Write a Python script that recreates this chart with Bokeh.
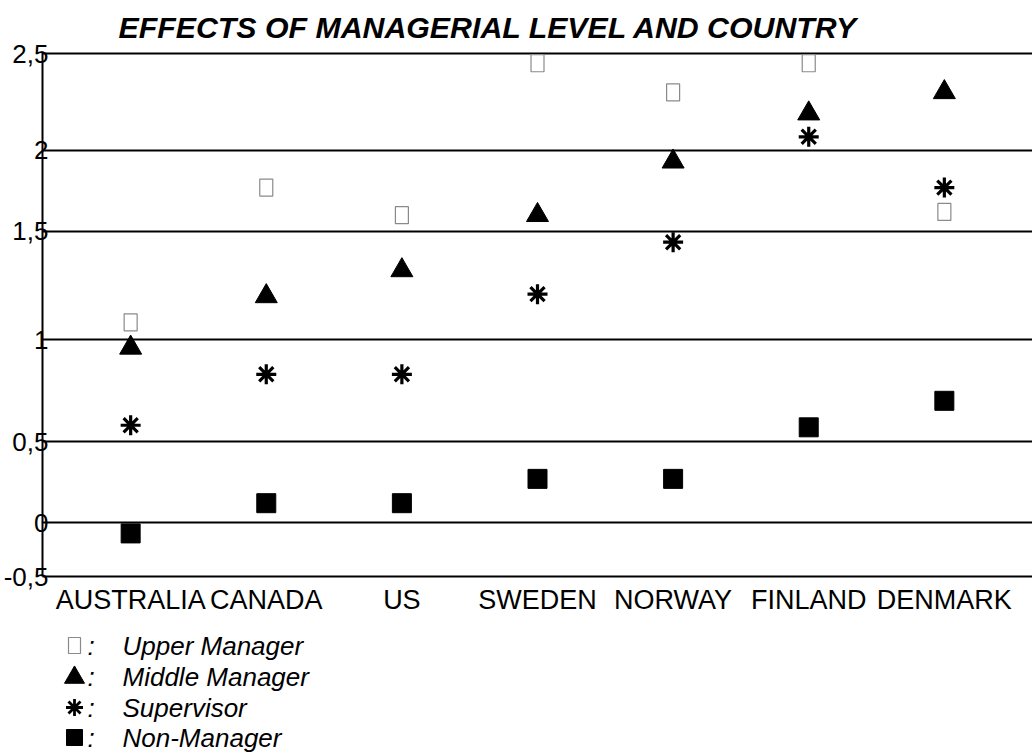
from bokeh.plotting import figure
from bokeh.layouts import column
from bokeh.models import (ColumnDataSource, FactorRange, Range1d, FixedTicker,
                          LinearInterpolator, Title)
from bokeh.transform import transform
from bokeh.core.properties import value
from bokeh.embed import file_html
from bokeh.resources import INLINE

# ---------------- data ----------------
countries = ["AUSTRALIA", "CANADA", "US", "SWEDEN", "NORWAY", "FINLAND", "DENMARK"]
upper_manager = [1.08, 1.77, 1.60, 2.45, 2.30, 2.45, 1.62]
middle_manager = [0.96, 1.20, 1.32, 1.60, 1.93, 2.19, 2.30]
supervisor = [0.58, 0.83, 0.83, 1.21, 1.45, 2.07, 1.77]
non_manager = [-0.10, 0.12, 0.12, 0.27, 0.27, 0.57, 0.70]

tick_values = [-0.5, 0, 0.5, 1, 1.5, 2, 2.5]
tick_labels = ["-0,5", "0", "0,5", "1", "1,5", "2", "2,5"]
legend_labels = ["Upper Manager", "Middle Manager", "Supervisor", "Non-Manager"]
title_text = "EFFECTS OF MANAGERIAL LEVEL AND COUNTRY"

# The reference's value axis is non-uniform: each tick value sits at this
# fraction of the plot height (from the bottom).
axis_fraction = [0.0, 0.103, 0.258, 0.453, 0.660, 0.815, 1.0]
value_axis = LinearInterpolator(x=tick_values, y=axis_fraction)

FONT = "Liberation Sans"
W = 1032
H_CHART = 624
H_LEGEND = 130

source = ColumnDataSource(dict(country=countries, upper=upper_manager,
                               middle=middle_manager, sup=supervisor,
                               non=non_manager))

p = figure(width=W, height=H_CHART, output_backend="svg", toolbar_location=None,
           x_range=FactorRange(*countries, range_padding=0.15,
                               range_padding_units="absolute"),
           y_range=Range1d(0, 1.004))
p.min_border_left = 42
p.min_border_right = 0
p.min_border_top = 51
p.min_border_bottom = 48
p.outline_line_color = None
p.background_fill_color = "white"
p.border_fill_color = "white"

p.title.text = title_text
p.title.text_font = FONT
p.title.text_font_style = "bold italic"
p.title.text_font_size = "30.3px"
p.title.text_color = "black"
p.title.align = "left"
p.title.offset = 76
# small empty spacer between the title and the plot area
p.add_layout(Title(text=" ", text_font_size="1px", standoff=0), "above")

# markers
p.rect(x="country", y=transform("upper", value_axis), width=13, height=17,
       width_units="screen", height_units="screen", fill_color="white",
       line_color="#8a8a8a", line_width=1.2, source=source)
p.scatter(x="country", y=transform("middle", value_axis), marker="triangle",
          size=22, fill_color="black", line_color="black", source=source)
p.scatter(x="country", y=transform("sup", value_axis), marker="asterisk",
          size=20, line_color="black", line_width=3.2, source=source)
p.scatter(x="country", y=transform("non", value_axis), marker="square",
          size=19, fill_color="black", line_color="black", source=source)

# axes
p.xgrid.grid_line_color = None
p.ygrid.ticker = FixedTicker(ticks=axis_fraction)
p.ygrid.grid_line_color = "black"
p.ygrid.grid_line_width = 2

p.yaxis.ticker = FixedTicker(ticks=axis_fraction)
p.yaxis.major_label_overrides = {f: t for f, t in zip(axis_fraction, tick_labels)}
p.yaxis.axis_line_color = "black"
p.yaxis.axis_line_width = 2
p.yaxis.major_tick_line_color = None
p.yaxis.minor_tick_line_color = None
p.yaxis.major_tick_out = 0
p.yaxis.major_label_standoff = -6
p.yaxis.major_label_text_font = FONT
p.yaxis.major_label_text_font_size = "26px"
p.yaxis.major_label_text_color = "black"

p.xaxis.axis_line_color = "black"
p.xaxis.axis_line_width = 2
p.xaxis.major_tick_line_color = None
p.xaxis.minor_tick_line_color = None
p.xaxis.major_tick_out = 0
p.xaxis.major_label_standoff = 8
p.xaxis.major_label_text_font = FONT
p.xaxis.major_label_text_font_size = "27px"
p.xaxis.major_label_text_color = "black"

# ---------------- legend (text block under the chart) ----------------
# this figure's frame is aligned with the chart's frame (starts at x = 42)
q = figure(width=W, height=H_LEGEND, output_backend="svg", toolbar_location=None,
           x_range=Range1d(0, W - 42), y_range=Range1d(H_LEGEND, 0),
           x_axis_type=None, y_axis_type=None)
q.min_border_left = 42
q.min_border_right = 0
q.min_border_top = 0
q.min_border_bottom = 0
q.outline_line_color = None
q.xgrid.grid_line_color = None
q.ygrid.grid_line_color = None

rows = [21, 52, 83, 113]
gx = 32
q.rect(x=[gx], y=[rows[0]], width=12, height=16, width_units="screen",
       height_units="screen", fill_color="white", line_color="#8a8a8a", line_width=1.2)
q.scatter(x=[gx], y=[rows[1] + 1], marker="triangle", size=20,
          fill_color="black", line_color="black")
q.scatter(x=[gx], y=[rows[2]], marker="asterisk", size=17,
          line_color="black", line_width=2.8)
q.scatter(x=[gx], y=[rows[3]], marker="square", size=16,
          fill_color="black", line_color="black")
q.text(x=[45] * 4, y=rows, text=[":"] * 4, text_font=value(FONT),
       text_font_style="italic", text_font_size="26px", text_baseline="middle",
       text_color="black")
q.text(x=[80] * 4, y=rows, text=legend_labels, text_font=value(FONT),
       text_font_style="italic", text_font_size="26px", text_baseline="middle",
       text_color="black")

layout = column(p, q, spacing=0)
open("out.html", "w").write(file_html(layout, INLINE))
